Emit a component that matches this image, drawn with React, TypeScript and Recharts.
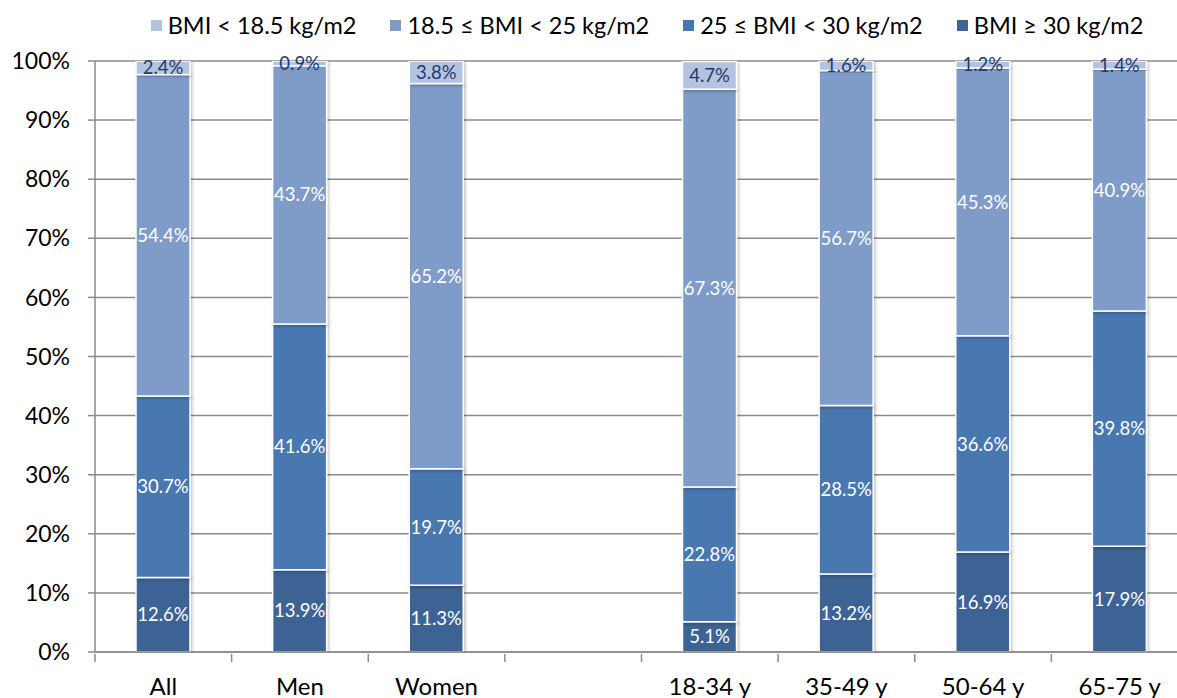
import { Bar, BarChart, CartesianGrid, LabelList, XAxis, YAxis } from "recharts";

const categories = ["All", "Men", "Women", "", "18-34 y", "35-49 y", "50-64 y", "65-75 y"];
const obese = [12.6, 13.9, 11.3, null, 5.1, 13.2, 16.9, 17.9];
const overweight = [30.7, 41.6, 19.7, null, 22.8, 28.5, 36.6, 39.8];
const normal = [54.4, 43.7, 65.2, null, 67.3, 56.7, 45.3, 40.9];
const under = [2.4, 0.9, 3.8, null, 4.7, 1.6, 1.2, 1.4];
const yTicks = [0, 10, 20, 30, 40, 50, 60, 70, 80, 90, 100];

const series = [
  { key: "obese", name: "BMI ≥ 30 kg/m2", color: "#3c6494", text: "#ffffff" },
  { key: "overweight", name: "25 ≤ BMI < 30 kg/m2", color: "#4877b0", text: "#ffffff" },
  { key: "normal", name: "18.5 ≤ BMI < 25 kg/m2", color: "#7f9bc8", text: "#ffffff" },
  { key: "under", name: "BMI < 18.5 kg/m2", color: "#b4c3e0", text: "#1f3a6e" },
];

const data = categories.map((name, i) => ({
  name,
  obese: obese[i],
  overweight: overweight[i],
  normal: normal[i],
  under: under[i],
}));

const FONT = "Lato, 'Open Sans', sans-serif";
const GRID = "#8a8a8a";

function XTick(props: any) {
  const { x, y, payload } = props;
  const half = payload.offset ?? 1093 / 16;
  return (
    <g>
      <line x1={x - half} x2={x - half} y1={y} y2={y + 8} stroke={GRID} strokeWidth={1.5} />
      <text x={x} y={y + 41} textAnchor="middle" fontSize={24} fontFamily={FONT} fill="#000">
        {payload.value}
      </text>
    </g>
  );
}

function Legend() {
  const items = [...series].reverse();
  return (
    <div
      style={{
        position: "absolute",
        top: 11,
        left: 0,
        width: 1294,
        display: "flex",
        justifyContent: "center",
        gap: 34,
        fontFamily: FONT,
        fontSize: 23.5,
        color: "#000",
      }}
    >
      {items.map((s) => (
        <div key={s.key} style={{ display: "flex", alignItems: "center", gap: 6 }}>
          <span style={{ width: 11, height: 11, background: s.color, display: "inline-block" }} />
          <span>{s.name}</span>
        </div>
      ))}
    </div>
  );
}

export default function App() {
  return (
    <div
      style={{
        position: "fixed",
        left: 0,
        top: 0,
        width: 1177,
        height: 698,
        overflow: "hidden",
        background: "#fff",
      }}
    >
      <Legend />
      <div style={{ position: "absolute", left: 0, top: 0 }}>
        <BarChart
          width={1200}
          height={698}
          data={data}
          margin={{ top: 61, right: 12, bottom: 0, left: 0 }}
          barSize={54}
        >
          <defs>
            <filter id="barShadow" x="-20%" y="-20%" width="140%" height="140%">
              <feDropShadow dx="1.5" dy="1.5" stdDeviation="1.5" floodColor="#000" floodOpacity="0.25" />
            </filter>
          </defs>
          <CartesianGrid vertical={false} stroke={GRID} strokeWidth={1.5} />
          <XAxis
            dataKey="name"
            height={46}
            tickLine={false}
            tickSize={0}
            axisLine={{ stroke: GRID, strokeWidth: 1.5 }}
            tick={<XTick />}
            interval={0}
          />
          <YAxis
            width={95}
            domain={[0, 100]}
            ticks={yTicks}
            allowDataOverflow
            tickFormatter={(v: number) => `${v}%`}
            tickSize={7}
            tickMargin={18}
            tickLine={{ stroke: GRID, strokeWidth: 1.5 }}
            axisLine={{ stroke: GRID, strokeWidth: 1.5 }}
            tick={{ fill: "#000", fontSize: 23, fontFamily: FONT }}
          />
          {series.map((s) => (
            <Bar
              key={s.key}
              dataKey={s.key}
              stackId="bmi"
              fill={s.color}
              stroke="#ffffff"
              strokeWidth={1.5}
              filter="url(#barShadow)"
              isAnimationActive={false}
            >
              <LabelList
                dataKey={s.key}
                position="center"
                formatter={(v: any) => (v == null ? "" : `${Number(v).toFixed(1)}%`)}
                fill={s.text}
                fontSize={18.5}
                fontFamily={FONT}
              />
            </Bar>
          ))}
        </BarChart>
      </div>
    </div>
  );
}
